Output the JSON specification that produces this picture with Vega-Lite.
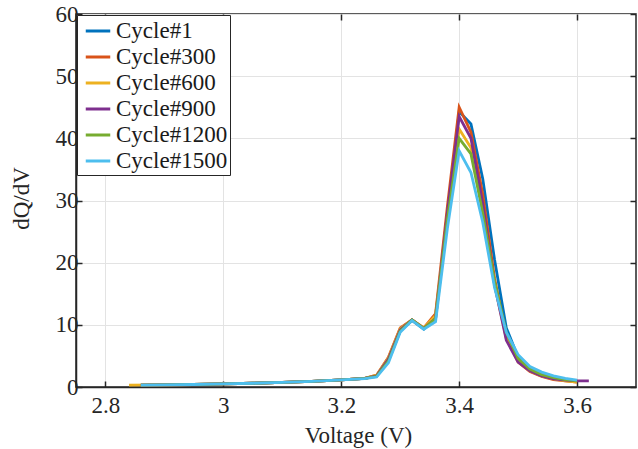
{
  "$schema": "https://vega.github.io/schema/vega-lite/v6.json",
  "width": 560,
  "height": 373,
  "autosize": {"type": "none"},
  "padding": {"left": 76, "top": 14, "right": 2, "bottom": 62},
  "background": "white",
  "config": {
    "font": "Liberation Serif",
    "view": {"stroke": "#262626", "strokeWidth": 1.5},
    "axis": {
      "labelFont": "Liberation Serif",
      "titleFont": "Liberation Serif",
      "labelColor": "#262626",
      "titleColor": "#262626",
      "titleFontWeight": "normal",
      "domainColor": "#262626",
      "domainWidth": 1.5,
      "tickColor": "#262626",
      "tickWidth": 1.5,
      "gridColor": "#e3e3e3",
      "gridWidth": 1
    },
    "legend": {"labelFont": "Liberation Serif"}
  },
  "data": {
    "values": [
      {"c":"Cycle#1","v":2.86,"q":0.3},{"c":"Cycle#1","v":2.9,"q":0.35},{"c":"Cycle#1","v":2.95,"q":0.4},{"c":"Cycle#1","v":3.0,"q":0.5},{"c":"Cycle#1","v":3.05,"q":0.6},{"c":"Cycle#1","v":3.1,"q":0.75},{"c":"Cycle#1","v":3.15,"q":0.9},{"c":"Cycle#1","v":3.2,"q":1.15},{"c":"Cycle#1","v":3.24,"q":1.4},{"c":"Cycle#1","v":3.26,"q":1.8},{"c":"Cycle#1","v":3.28,"q":4.3},{"c":"Cycle#1","v":3.3,"q":9.0},{"c":"Cycle#1","v":3.32,"q":10.7},{"c":"Cycle#1","v":3.34,"q":9.3},{"c":"Cycle#1","v":3.36,"q":11.5},{"c":"Cycle#1","v":3.38,"q":27},{"c":"Cycle#1","v":3.4,"q":44.3},{"c":"Cycle#1","v":3.42,"q":42.3},{"c":"Cycle#1","v":3.44,"q":33.5},{"c":"Cycle#1","v":3.46,"q":20.5},{"c":"Cycle#1","v":3.48,"q":9.5},{"c":"Cycle#1","v":3.5,"q":4.8},{"c":"Cycle#1","v":3.52,"q":3.0},{"c":"Cycle#1","v":3.54,"q":2.0},{"c":"Cycle#1","v":3.56,"q":1.5},{"c":"Cycle#1","v":3.58,"q":1.2},{"c":"Cycle#1","v":3.6,"q":1.0},
      {"c":"Cycle#300","v":2.86,"q":0.3},{"c":"Cycle#300","v":2.9,"q":0.35},{"c":"Cycle#300","v":2.95,"q":0.4},{"c":"Cycle#300","v":3.0,"q":0.5},{"c":"Cycle#300","v":3.05,"q":0.6},{"c":"Cycle#300","v":3.1,"q":0.75},{"c":"Cycle#300","v":3.15,"q":0.9},{"c":"Cycle#300","v":3.2,"q":1.15},{"c":"Cycle#300","v":3.24,"q":1.4},{"c":"Cycle#300","v":3.26,"q":1.9},{"c":"Cycle#300","v":3.28,"q":4.8},{"c":"Cycle#300","v":3.3,"q":9.5},{"c":"Cycle#300","v":3.32,"q":10.8},{"c":"Cycle#300","v":3.34,"q":9.5},{"c":"Cycle#300","v":3.36,"q":11.8},{"c":"Cycle#300","v":3.38,"q":29},{"c":"Cycle#300","v":3.4,"q":45},{"c":"Cycle#300","v":3.42,"q":41},{"c":"Cycle#300","v":3.44,"q":31},{"c":"Cycle#300","v":3.46,"q":17.5},{"c":"Cycle#300","v":3.48,"q":8},{"c":"Cycle#300","v":3.5,"q":4},{"c":"Cycle#300","v":3.52,"q":2.5},{"c":"Cycle#300","v":3.54,"q":1.7},{"c":"Cycle#300","v":3.56,"q":1.2},{"c":"Cycle#300","v":3.58,"q":1.0},{"c":"Cycle#300","v":3.6,"q":0.8},
      {"c":"Cycle#600","v":2.84,"q":0.3},{"c":"Cycle#600","v":2.9,"q":0.35},{"c":"Cycle#600","v":2.95,"q":0.4},{"c":"Cycle#600","v":3.0,"q":0.5},{"c":"Cycle#600","v":3.05,"q":0.6},{"c":"Cycle#600","v":3.1,"q":0.75},{"c":"Cycle#600","v":3.15,"q":0.9},{"c":"Cycle#600","v":3.2,"q":1.15},{"c":"Cycle#600","v":3.24,"q":1.4},{"c":"Cycle#600","v":3.26,"q":1.9},{"c":"Cycle#600","v":3.28,"q":4.7},{"c":"Cycle#600","v":3.3,"q":9.4},{"c":"Cycle#600","v":3.32,"q":10.8},{"c":"Cycle#600","v":3.34,"q":9.5},{"c":"Cycle#600","v":3.36,"q":11.5},{"c":"Cycle#600","v":3.38,"q":27.5},{"c":"Cycle#600","v":3.4,"q":41.5},{"c":"Cycle#600","v":3.42,"q":38.5},{"c":"Cycle#600","v":3.44,"q":28.5},{"c":"Cycle#600","v":3.46,"q":16.5},{"c":"Cycle#600","v":3.48,"q":7.8},{"c":"Cycle#600","v":3.5,"q":4.2},{"c":"Cycle#600","v":3.52,"q":2.6},{"c":"Cycle#600","v":3.54,"q":1.8},{"c":"Cycle#600","v":3.56,"q":1.3},{"c":"Cycle#600","v":3.58,"q":1.0},{"c":"Cycle#600","v":3.6,"q":0.8},
      {"c":"Cycle#900","v":2.86,"q":0.3},{"c":"Cycle#900","v":2.9,"q":0.35},{"c":"Cycle#900","v":2.95,"q":0.4},{"c":"Cycle#900","v":3.0,"q":0.5},{"c":"Cycle#900","v":3.05,"q":0.6},{"c":"Cycle#900","v":3.1,"q":0.75},{"c":"Cycle#900","v":3.15,"q":0.9},{"c":"Cycle#900","v":3.2,"q":1.15},{"c":"Cycle#900","v":3.24,"q":1.4},{"c":"Cycle#900","v":3.26,"q":1.8},{"c":"Cycle#900","v":3.28,"q":4.5},{"c":"Cycle#900","v":3.3,"q":9.2},{"c":"Cycle#900","v":3.32,"q":10.8},{"c":"Cycle#900","v":3.34,"q":9.4},{"c":"Cycle#900","v":3.36,"q":11},{"c":"Cycle#900","v":3.38,"q":28},{"c":"Cycle#900","v":3.4,"q":43.5},{"c":"Cycle#900","v":3.42,"q":40},{"c":"Cycle#900","v":3.44,"q":29.5},{"c":"Cycle#900","v":3.46,"q":16.5},{"c":"Cycle#900","v":3.48,"q":7.5},{"c":"Cycle#900","v":3.5,"q":4},{"c":"Cycle#900","v":3.52,"q":2.6},{"c":"Cycle#900","v":3.54,"q":1.8},{"c":"Cycle#900","v":3.56,"q":1.3},{"c":"Cycle#900","v":3.58,"q":1.1},{"c":"Cycle#900","v":3.6,"q":1.0},{"c":"Cycle#900","v":3.62,"q":1.0},
      {"c":"Cycle#1200","v":2.86,"q":0.3},{"c":"Cycle#1200","v":2.9,"q":0.35},{"c":"Cycle#1200","v":2.95,"q":0.4},{"c":"Cycle#1200","v":3.0,"q":0.5},{"c":"Cycle#1200","v":3.05,"q":0.6},{"c":"Cycle#1200","v":3.1,"q":0.75},{"c":"Cycle#1200","v":3.15,"q":0.9},{"c":"Cycle#1200","v":3.2,"q":1.15},{"c":"Cycle#1200","v":3.24,"q":1.4},{"c":"Cycle#1200","v":3.26,"q":1.7},{"c":"Cycle#1200","v":3.28,"q":4.2},{"c":"Cycle#1200","v":3.3,"q":9.0},{"c":"Cycle#1200","v":3.32,"q":10.8},{"c":"Cycle#1200","v":3.34,"q":9.4},{"c":"Cycle#1200","v":3.36,"q":11},{"c":"Cycle#1200","v":3.38,"q":27},{"c":"Cycle#1200","v":3.4,"q":40},{"c":"Cycle#1200","v":3.42,"q":37.5},{"c":"Cycle#1200","v":3.44,"q":28},{"c":"Cycle#1200","v":3.46,"q":17},{"c":"Cycle#1200","v":3.48,"q":8.8},{"c":"Cycle#1200","v":3.5,"q":4.6},{"c":"Cycle#1200","v":3.52,"q":2.9},{"c":"Cycle#1200","v":3.54,"q":2.0},{"c":"Cycle#1200","v":3.56,"q":1.5},{"c":"Cycle#1200","v":3.58,"q":1.2},{"c":"Cycle#1200","v":3.6,"q":1.0},
      {"c":"Cycle#1500","v":2.86,"q":0.3},{"c":"Cycle#1500","v":2.9,"q":0.35},{"c":"Cycle#1500","v":2.95,"q":0.4},{"c":"Cycle#1500","v":3.0,"q":0.5},{"c":"Cycle#1500","v":3.05,"q":0.6},{"c":"Cycle#1500","v":3.1,"q":0.75},{"c":"Cycle#1500","v":3.15,"q":0.9},{"c":"Cycle#1500","v":3.2,"q":1.15},{"c":"Cycle#1500","v":3.24,"q":1.35},{"c":"Cycle#1500","v":3.26,"q":1.6},{"c":"Cycle#1500","v":3.28,"q":3.9},{"c":"Cycle#1500","v":3.3,"q":8.8},{"c":"Cycle#1500","v":3.32,"q":10.7},{"c":"Cycle#1500","v":3.34,"q":9.3},{"c":"Cycle#1500","v":3.36,"q":10.5},{"c":"Cycle#1500","v":3.38,"q":25.5},{"c":"Cycle#1500","v":3.4,"q":38},{"c":"Cycle#1500","v":3.42,"q":34.5},{"c":"Cycle#1500","v":3.44,"q":26.5},{"c":"Cycle#1500","v":3.46,"q":16},{"c":"Cycle#1500","v":3.48,"q":8.8},{"c":"Cycle#1500","v":3.5,"q":5.2},{"c":"Cycle#1500","v":3.52,"q":3.3},{"c":"Cycle#1500","v":3.54,"q":2.4},{"c":"Cycle#1500","v":3.56,"q":1.8},{"c":"Cycle#1500","v":3.58,"q":1.4},{"c":"Cycle#1500","v":3.6,"q":1.1}
    ]
  },
  "layer": [
    {
      "mark": {"type": "line", "strokeWidth": 2.8, "clip": true},
      "encoding": {
        "x": {
          "field": "v", "type": "quantitative",
          "scale": {"domain": [2.75, 3.7], "nice": false, "zero": false},
          "axis": {
            "title": "Voltage (V)",
            "values": [2.8, 3.0, 3.2, 3.4, 3.6],
            "format": "~g",
            "labelFont": "Liberation Serif",
            "titleFont": "Liberation Serif",
            "labelFontSize": 23,
            "titleFontSize": 23,
            "tickSize": -6,
            "labelPadding": 13,
            "titleBaseline": "alphabetic",
            "titleY": 55,
            "titleX": 282
          }
        },
        "y": {
          "field": "q", "type": "quantitative",
          "scale": {"domain": [0, 60], "nice": false},
          "axis": {
            "title": "dQ/dV",
            "values": [0, 10, 20, 30, 40, 50, 60],
            "labelFont": "Liberation Serif",
            "titleFont": "Liberation Serif",
            "labelFontSize": 23,
            "titleFontSize": 23,
            "tickSize": -6,
            "labelPadding": 4,
            "titleAngle": -90,
            "titleX": -55,
            "titleY": 184,
            "titleAlign": "center",
            "titleBaseline": "middle"
          }
        },
        "color": {
          "field": "c", "type": "nominal",
          "scale": {
            "domain": ["Cycle#1", "Cycle#300", "Cycle#600", "Cycle#900", "Cycle#1200", "Cycle#1500"],
            "range": ["#0072BD", "#D95319", "#EDB120", "#7E2F8E", "#77AC30", "#4DBEEE"]
          },
          "legend": {
            "title": null,
            "orient": "top-left",
            "offset": 1,
            "fillColor": "white",
            "strokeColor": "#262626",
            "padding": 2,
            "symbolType": "stroke",
            "symbolSize": 600,
            "symbolStrokeWidth": 3,
            "symbolOffset": 5,
            "labelOffset": 4,
            "labelFont": "Liberation Serif",
            "labelFontSize": 23,
            "labelColor": "#1a1a1a",
            "rowPadding": 0
          }
        }
      }
    },
    {
      "mark": {"type": "point", "opacity": 0},
      "encoding": {
        "x": {
          "field": "v", "type": "quantitative",
          "axis": {"orient": "top", "values": [2.8, 3.0, 3.2, 3.4, 3.6], "labels": false, "title": null, "grid": false, "tickSize": -6, "domain": false}
        },
        "y": {
          "field": "q", "type": "quantitative",
          "axis": {"orient": "right", "values": [0, 10, 20, 30, 40, 50, 60], "labels": false, "title": null, "grid": false, "tickSize": -6, "domain": false}
        }
      }
    }
  ],
  "resolve": {"axis": {"x": "independent", "y": "independent"}}
}
